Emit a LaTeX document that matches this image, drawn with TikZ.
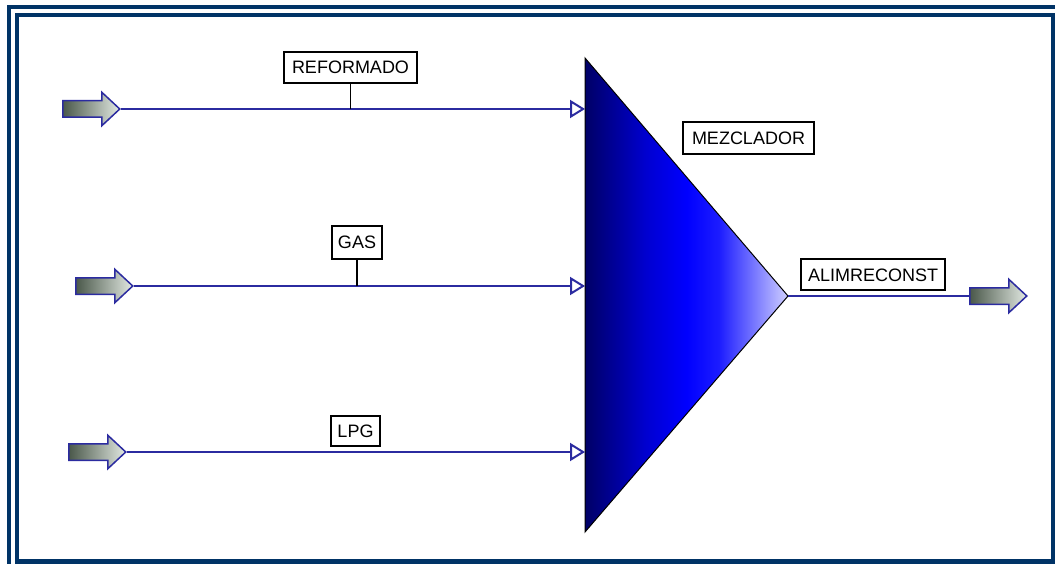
\documentclass[tikz,border=0pt]{standalone}
\usepackage{fontspec}
\setmainfont{Liberation Sans}
\usetikzlibrary{shapes.arrows,arrows.meta}
\definecolor{frame}{HTML}{003366}
\definecolor{flow}{HTML}{2B2BA0}
\definecolor{adark}{HTML}{4A584A}
\definecolor{alight}{HTML}{E2E9E2}
\definecolor{mdark}{HTML}{000066}
\definecolor{mblue}{HTML}{0000D0}
\definecolor{mmid}{HTML}{0000FF}
\definecolor{mmid2}{HTML}{1C1CFF}
\definecolor{mlight}{HTML}{D0D0FF}
\pgfdeclarehorizontalshading{mixshade}{100bp}{color(0bp)=(mdark); color(25bp)=(mdark); color(40bp)=(mblue); color(50bp)=(mmid); color(58bp)=(mmid2); color(75bp)=(mlight); color(100bp)=(mlight)}
\begin{document}
\begin{tikzpicture}[x=1pt,y=-1pt,
  streamarrow/.style={single arrow, draw=flow, line width=1.5pt,
    left color=adark, right color=alight,
    minimum height=57pt, inner xsep=0pt, inner ysep=7.5pt,
    single arrow head extend=8.5pt, single arrow tip angle=86,
    anchor=west},
  lbl/.style={draw=black, fill=white, line width=1.2pt, inner sep=0pt,
    font=\fontsize{18}{20}\selectfont, text height=13pt, text depth=0pt},
  stream/.style={draw=flow, line width=2pt,
    -{Triangle[length=15pt,width=18pt,fill=white]}},
  outstream/.style={draw=flow, line width=2pt},
  stem/.style={draw=black, line width=1.5pt}]
\useasboundingbox (0,0) rectangle (1055,564);
\fill[white] (0,0) rectangle (1055,564);
% frames
\draw[frame, line width=4.5pt] (9,564) -- (9,7) -- (1055,7);
\draw[frame, line width=4.5pt] (17,15) rectangle (1053,561.5);
% mixer
\coordinate (mixT) at (585,58);
\coordinate (mixB) at (585,532);
\coordinate (mixTip) at (788,296);
\shade[shading=mixshade, draw=black, line width=1pt]
  (mixT) -- (mixTip) -- (mixB) -- cycle;
% feed arrows
\node[streamarrow] (in1) at (62,109) {};
\node[streamarrow] (in2) at (75,286) {};
\node[streamarrow] (in3) at (68,452) {};
\node[streamarrow] (out) at (969,296) {};
% streams
\draw[stream] (in1.east) -- (in1.east -| mixT);
\draw[stream] (in2.east) -- (in2.east -| mixT);
\draw[stream] (in3.east) -- (in3.east -| mixT);
\draw[outstream] (mixTip) -- (out.west);
% labels
\node[lbl, minimum width=133pt, minimum height=31pt] (lref) at (350.5,67.5) {REFORMADO};
\node[lbl, minimum width=50pt, minimum height=33pt] (lgas) at (357,242.5) {GAS};
\node[lbl, minimum width=49pt, minimum height=30pt] (llpg) at (355.5,431) {LPG};
\node[lbl, minimum width=131pt, minimum height=32pt] (lmez) at (748.5,138) {MEZCLADOR};
\node[lbl, minimum width=144pt, minimum height=31pt] (lalim) at (873,274.5) {ALIMRECONST};
\draw[stem] (lref.south) -- (lref.south |- in1.east);
\draw[stem] (lgas.south) -- (lgas.south |- in2.east);
\end{tikzpicture}
\end{document}
